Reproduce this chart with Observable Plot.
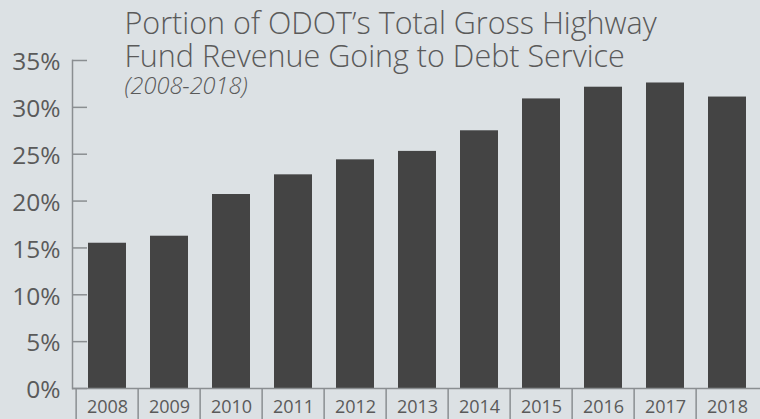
<!DOCTYPE html>
<html>
<head>
<meta charset="utf-8">
<script src="https://cdn.jsdelivr.net/npm/d3@7"></script>
<script src="https://cdn.jsdelivr.net/npm/@observablehq/plot@0.6"></script>
<style>
  html, body { margin: 0; padding: 0; background: #dce1e4; overflow: hidden; }
  #chart svg { display: block; }
</style>
</head>
<body>
<div id="chart"></div>
<script>
const years = ["2008","2009","2010","2011","2012","2013","2014","2015","2016","2017","2018"];
const shares = [15.5, 16.25, 20.7, 22.8, 24.4, 25.3, 27.5, 30.9, 32.15, 32.6, 31.1];
const yTicks = [0, 5, 10, 15, 20, 25, 30, 35];
const titleLine1 = "Portion of ODOT\u2019s Total Gross Highway";
const titleLine2 = "Fund Revenue Going to Debt Service";
const subtitle = "(2008-2018)";

const data = years.map((year, i) => ({year, share: shares[i]}));

const W = 760, H = 419, mL = 72, mR = -2, mT = 60, mB = 31;
const step = (W - mL - mR) / years.length;
const tickLen = 15;
const axisColor = "#8a8e91";
const textColor = "#5a5a5a";
const font = "'Open Sans', 'Noto Sans', sans-serif";

const chart = Plot.plot({
  width: W,
  height: H,
  marginLeft: mL,
  marginRight: mR,
  marginTop: mT,
  marginBottom: mB,
  style: {background: "#dce1e4", fontFamily: font, color: textColor},
  x: {type: "band", domain: years, paddingInner: 0.38, paddingOuter: 0.19, axis: null, label: null},
  y: {domain: [0, 35], axis: null, label: null},
  marks: [
    Plot.barY(data, {x: "year", y: "share", fill: "#444444"}),
    Plot.frame({anchor: "left", stroke: axisColor, strokeWidth: 1.5}),
    Plot.ruleY([0], {stroke: axisColor, strokeWidth: 1.5}),
    Plot.ruleY(yTicks, {y: d => d, insetRight: (W - mL - mR) - tickLen, stroke: axisColor, strokeWidth: 1.5}),
    Plot.axisY({ticks: yTicks, tickSize: 0, tickPadding: 12, tickFormat: d => d + "%", label: null,
      fontSize: 24.5, fill: textColor, dy: 2}),
    Plot.axisX({tickSize: mB, dx: -step / 2, tickFormat: () => "", label: null, stroke: axisColor, strokeWidth: 1.5}),
    Plot.axisX({tickSize: 0, tickPadding: 12, fontSize: 18, fill: textColor, label: null}),
    Plot.text([titleLine1], {text: d => d, frameAnchor: "top-left", textAnchor: "start", lineAnchor: "bottom",
      dx: 52, dy: -27, fontSize: 30.5, fill: textColor, fontWeight: 300}),
    Plot.text([titleLine2], {text: d => d, frameAnchor: "top-left", textAnchor: "start", lineAnchor: "bottom",
      dx: 52, dy: 6, fontSize: 30.5, fill: textColor, fontWeight: 300}),
    Plot.text([subtitle], {text: d => d, frameAnchor: "top-left", textAnchor: "start", lineAnchor: "bottom",
      dx: 52, dy: 33, fontSize: 23.5, fill: textColor, fontStyle: "italic", fontWeight: 300})
  ]
});
document.getElementById("chart").appendChild(chart);
</script>
</body>
</html>
